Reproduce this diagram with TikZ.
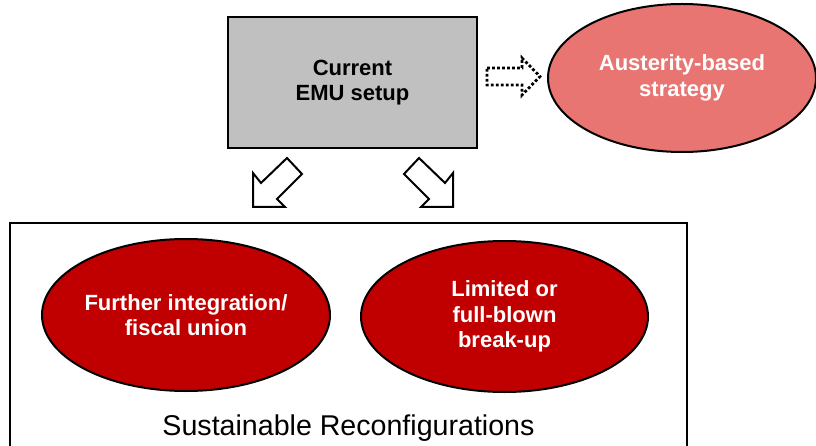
\documentclass[tikz,border=0pt]{standalone}
\usepackage{fontspec}
\setmainfont{Liberation Sans}
\usetikzlibrary{shapes.geometric}
\definecolor{boxgray}{HTML}{C0C0C0}
\definecolor{lightred}{HTML}{E87572}
\definecolor{darkred}{HTML}{C00000}
\tikzset{
  graybox/.style={draw=black, line width=2pt, fill=boxgray, minimum width=249pt, minimum height=131pt, inner sep=0pt,
    font=\fontsize{22}{25}\selectfont\bfseries, align=center},
  oval/.style={ellipse, draw=black, line width=2pt, inner sep=0pt, text=white,
    font=\fontsize{22}{25.5}\selectfont\bfseries, align=center},
  blockarrow/.style={draw=black, line width=2pt, fill=white, line join=miter},
  dotarrow/.style={draw=black, line width=2.8pt, dash pattern=on 2.8pt off 2.2pt, line join=miter},
  frame/.style={draw=black, line width=2pt}
}
\begin{document}
\begin{tikzpicture}[x=1pt,y=-1pt]
\useasboundingbox (0,0) rectangle (816,446);
% outer frame (bottom edge outside the picture)
\draw[frame] (10,223) rectangle (687,470);
% top box
\node[graybox] (emu) at (352.5,82.5) {Current\\EMU setup};
% austerity ellipse
\node[oval, fill=lightred, minimum width=268pt, minimum height=148pt] (aus) at (682,78) {Austerity-based\\strategy};
% bottom ellipses
\node[oval, fill=darkred, minimum width=288pt, minimum height=152pt] (fis) at (186,315) {Further integration/\\fiscal union};
\node[oval, fill=darkred, minimum width=287pt, minimum height=151pt] (brk) at (504.5,316.5) {Limited or\\full-blown\\break-up};
% caption
\node[anchor=base, font=\fontsize{28.6}{32}\selectfont, inner sep=0pt] (cap) at (348.5,435) {Sustainable Reconfigurations};
% dotted arrow
\draw[dotarrow] (487,68) -- (522,68) -- (522,58) -- (540,76.5) -- (522,95) -- (522,85) -- (487,85) -- cycle;
% block arrows
\draw[blockarrow] (253,207) -- (253,173) -- (261,183) -- (287,158) -- (302,174) -- (277,199) -- (285,207) -- cycle;
\draw[blockarrow] (453,207) -- (453,173) -- (445,183) -- (419,158) -- (404,174) -- (429,199) -- (421,207) -- cycle;
\end{tikzpicture}
\end{document}
